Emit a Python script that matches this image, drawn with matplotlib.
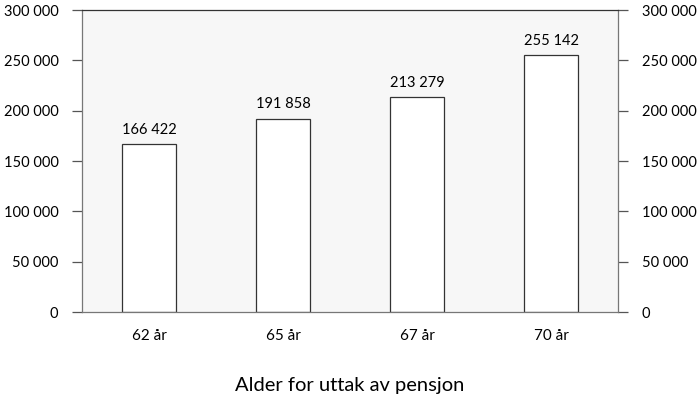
import matplotlib
matplotlib.use("Agg")
from matplotlib import pyplot as plt

categories = ["62 år", "65 år", "67 år", "70 år"]
values = [166422, 191858, 213279, 255142]
yticks = [0, 50000, 100000, 150000, 200000, 250000, 300000]


def fmt(v):
    # norwegian thousands separator (space)
    return f"{v:,}".replace(",", " ")


plt.rcParams["font.family"] = ["Lato", "DejaVu Sans"]

fig = plt.figure(figsize=(7, 4), dpi=100)
ax = fig.add_axes([82 / 700, 1 - 312 / 400, 536 / 700, 302 / 400])
ax.set_facecolor("#f7f7f7")

x = list(range(len(categories)))
bars = ax.bar(x, values, width=0.4, color="white", edgecolor="#333333", linewidth=0.9, zorder=2)
for b, v in zip(bars, values):
    ax.text(b.get_x() + b.get_width() / 2, v + 7500, fmt(v), ha="center", va="bottom", fontsize=10.5)

ax.set_xlim(-0.5, 3.5)
ax.set_ylim(0, 300000)
ax.set_xticks(x)
ax.set_xticklabels(categories, fontsize=11)
ax.set_yticks(yticks)
ax.set_yticklabels([fmt(t) for t in yticks], fontsize=10.5)
ax.tick_params(axis="x", length=0, pad=12)
ax.tick_params(axis="y", length=7, width=0.9, color="#555555", pad=10, right=True, labelright=True)

for side in ["left", "right", "bottom"]:
    ax.spines[side].set_color("#777777")
    ax.spines[side].set_linewidth(0.9)
ax.spines["top"].set_color("#333333")
ax.spines["top"].set_linewidth(0.9)

fig.text(0.5, 1 - 385 / 400, "Alder for uttak av pensjon", ha="center", va="center", fontsize=14.5)

fig.savefig("out.png", dpi=100)
